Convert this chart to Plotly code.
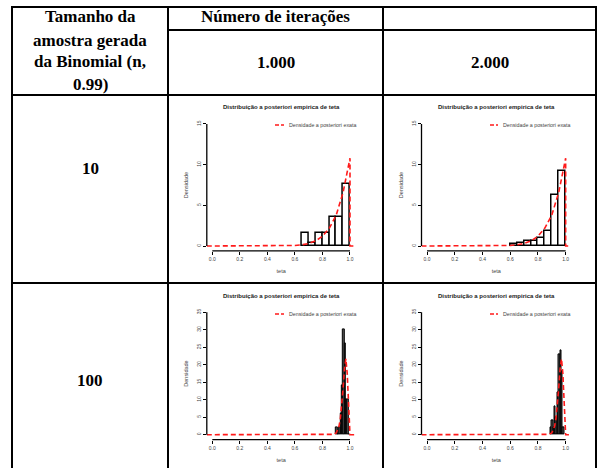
import plotly.graph_objects as go

W, H = 599, 468

# ---- table text ----
header_col1 = ["Tamanho da", "amostra gerada", "da Binomial (n,", "0.99)"]
header_iter = "Número de iterações"
iterations = ["1.000", "2.000"]
sample_sizes = ["10", "100"]

plot_title = "Distribuição a posteriori empirica de teta"
legend_text = "Densidade a posteriori exata"
x_label = "teta"
y_label = "Densidade"

# ---- empirical posterior histograms (left bin edges, densities) ----
edges_n10_it1000 = [0.65, 0.70, 0.75, 0.80, 0.85, 0.90, 0.95]
dens_n10_it1000 = [1.6, 0.4, 1.6, 1.6, 3.6, 3.6, 7.6]

edges_n10_it2000 = [0.60, 0.65, 0.70, 0.75, 0.80, 0.85, 0.90, 0.95]
dens_n10_it2000 = [0.2, 0.4, 0.6, 0.6, 1.0, 1.8, 6.2, 9.2]

edges_n100_it1000 = [0.90, 0.91, 0.92, 0.93, 0.94, 0.95, 0.96, 0.97, 0.98, 0.99]
dens_n100_it1000 = [2, 0, 2, 6, 14, 30, 26, 10, 10, 0]

edges_n100_it2000 = [0.89, 0.90, 0.91, 0.92, 0.93, 0.94, 0.95, 0.96, 0.97, 0.98]
dens_n100_it2000 = [2, 4, 2, 8, 5, 12, 23, 24, 18, 2]

# ---- exact posterior density curves ----
theta_n10 = [-0.04, 0.0, 0.5, 0.6, 0.65, 0.7, 0.75, 0.8, 0.85, 0.9, 0.95, 1.0, 1.0, 1.04]
exact_n10 = [0, 0, 0.01, 0.07, 0.15, 0.31, 0.62, 1.2, 2.2, 3.8, 6.6, 10.8, 0, 0]

theta_n100 = [-0.04, 0.0, 0.86, 0.88, 0.90, 0.92, 0.93, 0.94, 0.95, 0.96, 0.97, 0.98, 0.99, 1.0, 1.04]
exact_n100 = [0, 0, 0, 0.1, 0.5, 2.4, 4.6, 8.2, 13.3, 18.8, 21.7, 17.4, 5.8, 0, 0]

x_ticks = [0.0, 0.2, 0.4, 0.6, 0.8, 1.0]
y_ticks_n10 = [0, 5, 10, 15]
y_ticks_n100 = [0, 5, 10, 15, 20, 25, 30, 35]


def px(x):
    return x / W


def py(y):
    return 1 - y / H


panels = [
    dict(edges=edges_n10_it1000, dens=dens_n10_it1000, width=0.05,
         theta=theta_n10, exact=exact_n10, yticks=y_ticks_n10, ymax=15,
         xpx=(206.8, 355.5), ypx=(119.1, 250.9), title_y=107.5,
         leg=(275, 284, 125), fill="white", lw=1.5),
    dict(edges=edges_n10_it2000, dens=dens_n10_it2000, width=0.05,
         theta=theta_n10, exact=exact_n10, yticks=y_ticks_n10, ymax=15,
         xpx=(421.5, 571.2), ypx=(119.1, 250.9), title_y=107.5,
         leg=(490, 498, 125), fill="white", lw=1.5),
    dict(edges=edges_n100_it1000, dens=dens_n100_it1000, width=0.01,
         theta=theta_n100, exact=exact_n100, yticks=y_ticks_n100, ymax=35,
         xpx=(206.8, 355.5), ypx=(307.4, 439.6), title_y=296,
         leg=(275, 284, 314), fill="#555555", lw=1),
    dict(edges=edges_n100_it2000, dens=dens_n100_it2000, width=0.01,
         theta=theta_n100, exact=exact_n100, yticks=y_ticks_n100, ymax=35,
         xpx=(421.5, 571.2), ypx=(307.4, 439.6), title_y=296,
         leg=(490, 498, 314), fill="#555555", lw=1),
]

fig = go.Figure()
shapes = []
annotations = []
layout = {}

sans = "Liberation Sans, Arial, sans-serif"
serif = "Liberation Serif, Times New Roman, serif"

for i, p in enumerate(panels, start=1):
    sfx = "" if i == 1 else str(i)
    xa, ya = "x" + sfx, "y" + sfx
    centers = [e + p["width"] / 2 for e in p["edges"]]
    fig.add_trace(go.Bar(
        x=centers, y=p["dens"], width=p["width"], xaxis=xa, yaxis=ya,
        marker=dict(color=p["fill"], line=dict(color="black", width=p["lw"])),
        showlegend=False, hoverinfo="skip"))
    fig.add_trace(go.Scatter(
        x=p["theta"], y=p["exact"], mode="lines", xaxis=xa, yaxis=ya,
        line=dict(color="#ff1a1a", width=1.6, dash="5px,3px"),
        showlegend=False, hoverinfo="skip"))

    layout["xaxis" + sfx] = dict(
        domain=[px(p["xpx"][0]), px(p["xpx"][1])], range=[-0.04, 1.04],
        anchor=ya, tickvals=x_ticks, ticktext=[f"{v:.1f}" for v in x_ticks],
        ticks="outside", ticklen=3, tickwidth=1, tickcolor="black",
        tickfont=dict(family=sans, size=5, color="#444"),
        showgrid=False, zeroline=False, showline=False,
        title=dict(text=x_label, font=dict(family=sans, size=5.5, color="#444"),
                   standoff=8),
        fixedrange=True)
    layout["yaxis" + sfx] = dict(
        domain=[py(p["ypx"][1]), py(p["ypx"][0])],
        range=[-0.04 * p["ymax"], 1.04 * p["ymax"]],
        anchor=xa, tickvals=p["yticks"], tickangle=-90,
        ticks="outside", ticklen=3, tickwidth=1, tickcolor="black",
        tickfont=dict(family=sans, size=5, color="#444"),
        showgrid=False, zeroline=False, showline=False,
        title=dict(text=y_label, font=dict(family=sans, size=5.5, color="#444"),
                   standoff=6),
        fixedrange=True)

    # R-style axis lines spanning only the tick range
    shapes.append(dict(type="line", xref=xa, yref=ya + " domain",
                       x0=x_ticks[0], x1=x_ticks[-1], y0=0, y1=0,
                       line=dict(color="black", width=1.3)))
    shapes.append(dict(type="line", xref=xa + " domain", yref=ya,
                       x0=0, x1=0, y0=p["yticks"][0], y1=p["yticks"][-1],
                       line=dict(color="black", width=1.3)))

    # panel title
    annotations.append(dict(text="<b>" + plot_title + "</b>", xref=xa + " domain",
                            x=0.5, yref="paper", y=py(p["title_y"]),
                            showarrow=False, xanchor="center", yanchor="middle",
                            font=dict(family=sans, size=6, color="#222")))
    # legend key
    lx0, lx1, ly = p["leg"]
    shapes.append(dict(type="line", xref="paper", yref="paper",
                       x0=px(lx0), x1=px(lx1), y0=py(ly), y1=py(ly),
                       line=dict(color="#ff1a1a", width=1.6, dash="4px,2px")))
    annotations.append(dict(text=legend_text, xref="paper", yref="paper",
                            x=px(lx1 + 3), y=py(ly), showarrow=False,
                            xanchor="left", yanchor="middle",
                            font=dict(family=sans, size=5.3, color="#444")))

# ---- table grid ----
grid = dict(color="black", width=2)
col_x = [12, 168, 383, 596]
for x in col_x:
    shapes.append(dict(type="line", xref="paper", yref="paper",
                       x0=px(x), x1=px(x), y0=py(6), y1=py(H + 5), line=grid))
for y, x0 in [(7, 12), (30, 168), (95, 12), (283, 12)]:
    shapes.append(dict(type="line", xref="paper", yref="paper",
                       x0=px(x0 - 1), x1=px(597), y0=py(y), y1=py(y), line=grid))

hdr_font = dict(family=serif, size=17, color="black")
for k, (txt, y) in enumerate(zip(header_col1, [17, 40, 62, 84])):
    annotations.append(dict(text="<b>" + txt + "</b>", xref="paper", yref="paper",
                            x=px(90), y=py(y), showarrow=False,
                            xanchor="center", yanchor="middle", font=hdr_font))
annotations.append(dict(text="<b>" + header_iter + "</b>", xref="paper", yref="paper",
                        x=px(275.5), y=py(17), showarrow=False,
                        xanchor="center", yanchor="middle", font=hdr_font))
for txt, x in zip(iterations, [275.5, 489.5]):
    annotations.append(dict(text="<b>" + txt + "</b>", xref="paper", yref="paper",
                            x=px(x), y=py(63), showarrow=False,
                            xanchor="center", yanchor="middle", font=hdr_font))
for txt, y in zip(sample_sizes, [168, 380]):
    annotations.append(dict(text="<b>" + txt + "</b>", xref="paper", yref="paper",
                            x=px(90), y=py(y), showarrow=False,
                            xanchor="center", yanchor="middle", font=hdr_font))

fig.update_layout(
    width=W, height=H, margin=dict(l=0, r=0, t=0, b=0),
    paper_bgcolor="white", plot_bgcolor="white",
    bargap=0, showlegend=False,
    shapes=shapes, annotations=annotations, **layout)

fig.write_html("out.html", config={"displayModeBar": False})
